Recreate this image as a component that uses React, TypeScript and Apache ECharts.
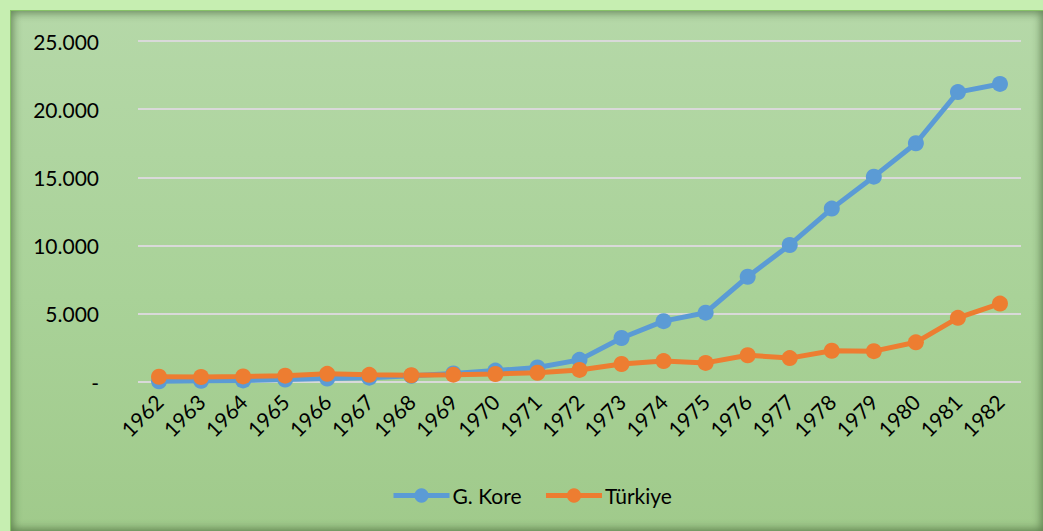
import React, { useEffect, useRef } from "react";
import * as echarts from "echarts";

const years = ["1962","1963","1964","1965","1966","1967","1968","1969","1970","1971","1972","1973","1974","1975","1976","1977","1978","1979","1980","1981","1982"];
const koreaValues = [55, 87, 119, 175, 250, 320, 455, 622, 835, 1068, 1624, 3225, 4460, 5081, 7715, 10046, 12711, 15055, 17505, 21254, 21853];
const turkeyValues = [381, 368, 411, 464, 600, 523, 496, 537, 588, 677, 885, 1317, 1532, 1401, 1960, 1753, 2288, 2261, 2910, 4703, 5746];
const seriesNames = ["G. Kore", "Türkiye"];

const FONT = "Lato, 'Open Sans', sans-serif";

export default function App() {
  const ref = useRef<HTMLDivElement>(null);
  useEffect(() => {
    if (!ref.current) return;
    const chart = echarts.init(ref.current, undefined, { renderer: "svg" });
    chart.setOption({
      animation: false,
      backgroundColor: "transparent",
      textStyle: { fontFamily: FONT },
      grid: { left: 138, right: 22, top: 41, bottom: 149, containLabel: false },
      legend: {
        top: 485,
        left: 391,
        padding: 0,
        itemWidth: 56,
        itemHeight: 18,
        itemGap: 22,
        lineStyle: { width: 5 },
        textStyle: { fontFamily: FONT, fontSize: 21, color: "#000", padding: [0, 0, 0, -2] },
        data: seriesNames,
      },
      xAxis: {
        type: "category",
        data: years,
        boundaryGap: true,
        axisLine: { show: false },
        axisTick: { show: false },
        axisLabel: { rotate: 45, interval: 0, fontSize: 21, color: "#000", fontFamily: FONT, margin: 16 },
      },
      yAxis: {
        type: "value",
        min: 0,
        max: 25000,
        interval: 5000,
        axisLine: { show: false },
        axisTick: { show: false },
        splitLine: { lineStyle: { color: "#d9d9d9", width: 2 } },
        axisLabel: {
          fontSize: 21,
          color: "#000",
          fontFamily: FONT,
          margin: 39,
          formatter: (v: number) => (v === 0 ? "-" : v.toString().replace(/\B(?=(\d{3})+(?!\d))/g, ".")),
        },
      },
      series: [
        {
          name: seriesNames[0],
          type: "line",
          data: koreaValues,
          symbol: "circle",
          symbolSize: 16,
          lineStyle: { width: 5, color: "#5b9bd5" },
          itemStyle: { color: "#5b9bd5" },
        },
        {
          name: seriesNames[1],
          type: "line",
          data: turkeyValues,
          symbol: "circle",
          symbolSize: 16,
          lineStyle: { width: 5, color: "#ed7d31" },
          itemStyle: { color: "#ed7d31" },
        },
      ],
    });
    return () => chart.dispose();
  }, []);

  return (
    <div style={{ position: "fixed", left: 0, top: 0, width: 1043, height: 531, background: "#c6eeb1", overflow: "hidden" }}>
      <div
        style={{
          position: "absolute",
          left: 10,
          top: 10,
          width: 1033,
          height: 521,
          background: "linear-gradient(to bottom, #b5d8a8 0%, #a9d298 55%, #a0ca8b 100%)",
          borderTop: "1px solid #86c266",
          borderLeft: "1px solid #86c266",
          boxSizing: "border-box",
          boxShadow: "inset 0 0 9px 2px rgba(40,70,30,0.55)",
        }}
      />
      <div ref={ref} style={{ position: "absolute", left: 0, top: 0, width: 1043, height: 531 }} />
    </div>
  );
}
